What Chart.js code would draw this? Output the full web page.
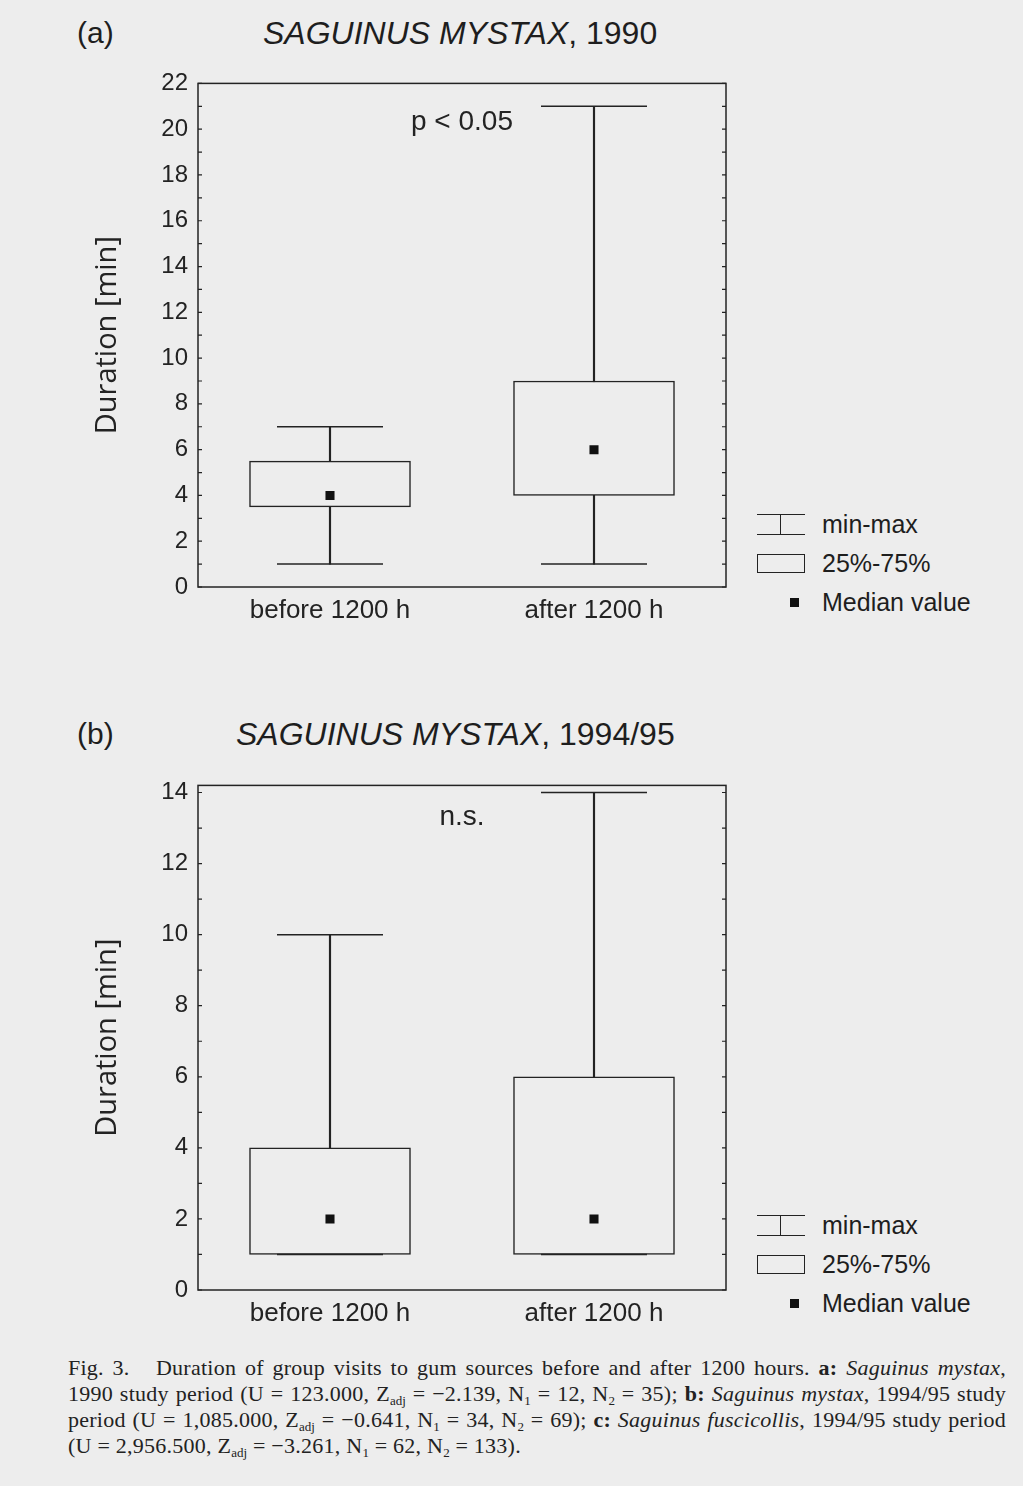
<!DOCTYPE html>
<html>
<head>
<meta charset="utf-8">
<script src="https://cdn.jsdelivr.net/npm/chart.js@4"></script>
<style>
  body { margin: 0; background: #ededed; width: 1023px; height: 1486px; position: relative; overflow: hidden;
         font-family: "Liberation Sans", Arial, sans-serif; color: #1e1e1e; }
  .abs { position: absolute; }
  .tag { font-size: 30px; }
  .ttl { font-size: 32px; white-space: nowrap; }
  .leg { font-size: 25px; white-space: nowrap; }
  .cap { position: absolute; left: 68px; top: 1355px; width: 938px; font-family: "Liberation Serif", "Times New Roman", serif;
         font-size: 22px; letter-spacing: 0.25px; line-height: 26px; color: #222; }
  .cap div { white-space: nowrap; text-align: justify; text-align-last: justify; }
  .cap div.last { text-align-last: left; }
  sub { font-size: 13px; line-height: 0; vertical-align: -4px; letter-spacing: 0; }
</style>
</head>
<body>

<div class="abs tag" style="left:77px;top:16px;">(a)</div>
<div class="abs ttl" style="left:263px;top:15px;"><i>SAGUINUS MYSTAX</i>, 1990</div>
<canvas id="chartA" class="abs" style="left:80px;top:59px;" width="660" height="582"></canvas>

<div class="abs tag" style="left:77px;top:717px;">(b)</div>
<div class="abs ttl" style="left:236px;top:716px;"><i>SAGUINUS MYSTAX</i>, 1994/95</div>
<canvas id="chartB" class="abs" style="left:80px;top:761px;" width="660" height="583"></canvas>

<div id="legA"></div>
<div id="legB"></div>

<div class="cap">
  <div>Fig. 3.&nbsp;&nbsp; Duration of group visits to gum sources before and after 1200 hours. <b>a:</b> <i>Saguinus mystax</i>,</div>
  <div>1990 study period (U = 123.000, Z<sub>adj</sub> = &minus;2.139, N<sub>1</sub> = 12, N<sub>2</sub> = 35); <b>b:</b> <i>Saguinus mystax</i>, 1994/95 study</div>
  <div>period (U = 1,085.000, Z<sub>adj</sub> = &minus;0.641, N<sub>1</sub> = 34, N<sub>2</sub> = 69); <b>c:</b> <i>Saguinus fuscicollis</i>, 1994/95 study period</div>
  <div class="last">(U = 2,956.500, Z<sub>adj</sub> = &minus;3.261, N<sub>1</sub> = 62, N<sub>2</sub> = 133).</div>
</div>

<script>
// categories
const categories = ['before 1200 h', 'after 1200 h'];

// (a) 1990
const minA = [1, 1];
const q1A = [3.5, 4];
const medA = [4, 6];
const q3A = [5.5, 9];
const maxA = [7, 21];

// (b) 1994/95
const minB = [1, 1];
const q1B = [1, 1];
const medB = [2, 2];
const q3B = [4, 6];
const maxB = [10, 14];

// y axis ranges, labels every 2
const yMaxA = 22;
const yMaxB = 14.2;

const ink = '#232323';

// frame, inward ticks and the p-value note
const framePlugin = {
    id: 'frame',
    afterDraw(chart, args, opts) {
        const ctx = chart.ctx;
        const a = chart.chartArea;
        const y = chart.scales.y;
        ctx.save();
        ctx.strokeStyle = ink;
        ctx.lineWidth = 1.5;
        ctx.strokeRect(a.left, a.top, a.right - a.left, a.bottom - a.top);
        ctx.lineWidth = 1.2;
        y.ticks.forEach(t => {
            const py = y.getPixelForValue(t.value);
            ctx.beginPath();
            ctx.moveTo(a.left, py); ctx.lineTo(a.left + 4, py);
            ctx.moveTo(a.right, py); ctx.lineTo(a.right - 4, py);
            ctx.stroke();
        });
        ctx.fillStyle = ink;
        ctx.font = '28px "Liberation Sans", Arial, sans-serif';
        ctx.textAlign = 'center';
        ctx.textBaseline = 'middle';
        ctx.fillText(opts.note, (a.left + a.right) / 2, y.getPixelForValue(opts.noteAt));
        ctx.restore();
    }
};

function makePanel(id, mins, q1s, meds, q3s, maxs, yMax, note, noteAt) {
    new Chart(document.getElementById(id), {
        type: 'bar',
        data: {
            labels: categories,
            datasets: [
                {
                    label: 'min-max',
                    data: mins.map((m, i) => [m, maxs[i]]),
                    backgroundColor: ink,
                    borderWidth: 0,
                    barThickness: 1.5,
                    grouped: false,
                    order: 4
                },
                {
                    label: '25%-75%',
                    data: q1s.map((q, i) => [q, q3s[i]]),
                    backgroundColor: '#ededed',
                    borderColor: ink,
                    borderWidth: 1.5,
                    borderSkipped: false,
                    barThickness: 161,
                    grouped: false,
                    order: 3
                },
                {
                    type: 'line',
                    label: 'max',
                    data: maxs,
                    showLine: false,
                    pointStyle: 'line',
                    pointRadius: 53,
                    pointBorderWidth: 1.5,
                    pointBorderColor: ink,
                    order: 2
                },
                {
                    type: 'line',
                    label: 'min',
                    data: mins,
                    showLine: false,
                    pointStyle: 'line',
                    pointRadius: 53,
                    pointBorderWidth: 1.5,
                    pointBorderColor: ink,
                    order: 2
                },
                {
                    type: 'line',
                    label: 'Median value',
                    data: meds,
                    showLine: false,
                    pointStyle: 'rect',
                    pointRadius: 6.4,
                    pointBorderWidth: 0,
                    pointBackgroundColor: '#111',
                    order: 1
                }
            ]
        },
        options: {
            responsive: false,
            animation: false,
            layout: { autoPadding: false, padding: { top: 20, right: 14, left: 0, bottom: 0 } },
            plugins: {
                legend: { display: false },
                tooltip: { enabled: false },
                frame: { note: note, noteAt: noteAt }
            },
            scales: {
                x: {
                    grid: { display: false, drawTicks: false },
                    border: { display: false },
                    ticks: { color: ink, padding: 8, font: { family: '"Liberation Sans", Arial, sans-serif', size: 26 } },
                    afterFit: s => { s.height = 54; }
                },
                y: {
                    min: 0,
                    max: yMax,
                    grid: { display: false, drawTicks: false },
                    border: { display: false },
                    ticks: {
                        stepSize: 1,
                        includeBounds: false,
                        color: ink,
                        padding: 10,
                        autoSkip: false,
                        font: { family: '"Liberation Sans", Arial, sans-serif', size: 24 },
                        callback: v => (v % 2 === 0 ? v : '')
                    },
                    title: {
                        display: true,
                        text: 'Duration [min]',
                        color: ink,
                        padding: { top: 10, bottom: 0 },
                        font: { family: '"Open Sans", sans-serif', size: 29 }
                    },
                    afterFit: s => { s.width = 118; }
                }
            }
        },
        plugins: [framePlugin]
    });
}

makePanel('chartA', minA, q1A, medA, q3A, maxA, yMaxA, 'p < 0.05', 20.3);
makePanel('chartB', minB, q1B, medB, q3B, maxB, yMaxB, 'n.s.', 13.3);

// legend beside each panel
function legend(el, top) {
    el.innerHTML =
        `<div class="abs" style="left:757px;top:${top - 11}px;width:48px;height:0;border-top:1.5px solid ${ink};"></div>` +
        `<div class="abs" style="left:757px;top:${top + 9}px;width:48px;height:0;border-top:1.5px solid ${ink};"></div>` +
        `<div class="abs" style="left:780px;top:${top - 11}px;width:0;height:20px;border-left:1.5px solid ${ink};"></div>` +
        `<div class="abs leg" style="left:822px;top:${top - 15}px;">min-max</div>` +
        `<div class="abs" style="left:757px;top:${top + 29}px;width:46px;height:17px;border:1.5px solid ${ink};"></div>` +
        `<div class="abs leg" style="left:822px;top:${top + 24}px;">25%-75%</div>` +
        `<div class="abs" style="left:790px;top:${top + 73}px;width:9px;height:9px;background:#111;"></div>` +
        `<div class="abs leg" style="left:822px;top:${top + 63}px;">Median value</div>`;
}
legend(document.getElementById('legA'), 525);
legend(document.getElementById('legB'), 1226);
</script>
</body>
</html>
